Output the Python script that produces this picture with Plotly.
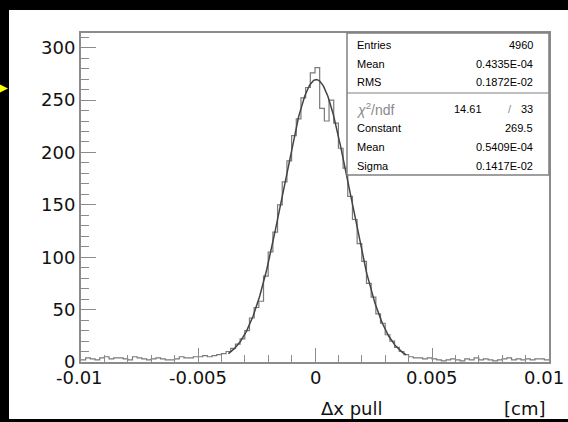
import numpy as np
import plotly.graph_objects as go

# ---------------- data ----------------
x_min, x_max, n_bins = -0.01, 0.01, 100
counts = [2, 4, 3, 2, 4, 5, 3, 4, 4, 3, 2, 5, 4, 3, 2, 3, 4, 3, 2, 2, 3, 5, 4, 4, 5,
          5, 6, 5, 6, 7, 8, 10, 13, 17, 22, 30, 42, 52, 58, 82,
          105, 124, 150, 172, 192, 216, 232, 252, 262, 276,
          281, 242, 230, 250, 228, 204, 185, 158, 136, 113,
          96, 75, 62, 46, 37, 26, 20, 14, 10, 7,
          5, 4, 4, 3, 4, 3, 2, 1, 2, 3, 2, 1, 3, 2, 4, 2, 3, 2, 1, 2,
          3, 4, 2, 3, 2, 3, 2, 3, 3, 2]
fit_constant = 269.5
fit_mean = 0.5409e-04
fit_sigma = 0.1417e-02
fit_range = [-0.0037, 0.0039]

x_tickvals = [-0.01, -0.005, 0, 0.005, 0.01]
x_ticktext = ["-0.01", "-0.005", "0", "0.005", "0.01"]
y_range = [0, 314]

stat_labels_top = ["Entries", "Mean", "RMS"]
stat_values_top = ["4960", "0.4335E-04", "0.1872E-02"]
chi2_value, ndf_value = "14.61", "33"
stat_labels_fit = ["Constant", "Mean", "Sigma"]
stat_values_fit = ["269.5", "0.5409E-04", "0.1417E-02"]

# ---------------- geometry helpers ----------------
W, H = 568, 422
L, R, T, B = 81, 549, 33, 362


def px(x):
    return (x - L) / (R - L)


def py(y):
    return (B - y) / (B - T)


edges = np.linspace(x_min, x_max, n_bins + 1)
hist_y = list(counts) + [counts[-1]]

fx = np.linspace(fit_range[0], fit_range[1], 300)
fy = fit_constant * np.exp(-0.5 * ((fx - fit_mean) / fit_sigma) ** 2)

fig = go.Figure()
fig.add_trace(go.Scatter(x=edges, y=hist_y, mode="lines", line_shape="hv",
                         line=dict(color="#7a7a7a", width=1.2), showlegend=False))
fig.add_trace(go.Scatter(x=fx, y=fy, mode="lines",
                         line=dict(color="#444444", width=1.5), showlegend=False))

shapes = []
# white panel on black page
shapes.append(dict(type="rect", xref="paper", yref="paper", layer="below",
                   x0=px(9), x1=px(570), y0=py(419), y1=py(10),
                   fillcolor="white", line=dict(width=0)))
# yellow arrow
shapes.append(dict(type="path", xref="paper", yref="paper",
                   path=f"M {px(-2)},{py(83.5)} L {px(8)},{py(88.5)} L {px(-2)},{py(93.5)} Z",
                   fillcolor="#ffff00", line=dict(width=0)))
# stats box
shapes.append(dict(type="rect", xref="paper", yref="paper",
                   x0=px(347), x1=px(549), y0=py(175), y1=py(33),
                   fillcolor="white", line=dict(color="#808080", width=1.5)))
shapes.append(dict(type="line", xref="paper", yref="paper",
                   x0=px(347), x1=px(549), y0=py(93), y1=py(93),
                   line=dict(color="#808080", width=1.2)))

ann = []
sfont = dict(family="Liberation Sans, Arial, sans-serif", size=11, color="black")
rows_top = [45, 64, 82]
rows_fit = [128, 147, 166]
for lab, val, yy in zip(stat_labels_top, stat_values_top, rows_top):
    ann.append(dict(text=lab, x=px(355), y=py(yy), xref="paper", yref="paper",
                    xanchor="left", yanchor="middle", showarrow=False, font=sfont))
    ann.append(dict(text=val, x=px(535), y=py(yy), xref="paper", yref="paper",
                    xanchor="right", yanchor="middle", showarrow=False, font=sfont))
for lab, val, yy in zip(stat_labels_fit, stat_values_fit, rows_fit):
    ann.append(dict(text=lab, x=px(355), y=py(yy), xref="paper", yref="paper",
                    xanchor="left", yanchor="middle", showarrow=False, font=sfont))
    ann.append(dict(text=val, x=px(535), y=py(yy), xref="paper", yref="paper",
                    xanchor="right", yanchor="middle", showarrow=False, font=sfont))
gfont = dict(family="Liberation Sans, Arial, sans-serif", size=14, color="#8a8a8a")
ann.append(dict(text="<i>χ</i><sup>2</sup>/ndf", x=px(354), y=py(109), xref="paper", yref="paper",
                xanchor="left", yanchor="middle", showarrow=False, font=gfont))
ann.append(dict(text=chi2_value, x=px(468), y=py(109), xref="paper", yref="paper",
                xanchor="center", yanchor="middle", showarrow=False, font=sfont))
ann.append(dict(text="/", x=px(510), y=py(109), xref="paper", yref="paper",
                xanchor="center", yanchor="middle", showarrow=False,
                font=dict(family="Liberation Sans, Arial, sans-serif", size=11, color="#8a8a8a")))
ann.append(dict(text=ndf_value, x=px(535), y=py(109), xref="paper", yref="paper",
                xanchor="right", yanchor="middle", showarrow=False, font=sfont))

tfont = dict(family="DejaVu Sans, sans-serif", size=18, color="#111111")
# x tick labels placed under their ticks
for i, (tv, tt) in enumerate(zip(x_tickvals, x_ticktext)):
    shift = -5 if i == len(x_tickvals) - 1 else (-2 if i == 0 else 0)
    ann.append(dict(text=tt, x=tv, y=py(377), xref="x", yref="paper", xshift=shift,
                    xanchor="center", yanchor="middle", showarrow=False, font=tfont))
ann.append(dict(text="Δx pull", x=px(352), y=py(408), xref="paper", yref="paper",
                xanchor="center", yanchor="middle", showarrow=False, font=tfont))
ann.append(dict(text="[cm]", x=px(547), y=py(408), xref="paper", yref="paper",
                xanchor="right", yanchor="middle", showarrow=False, font=tfont))

axcol = "#8c8c8c"
fig.update_layout(
    width=W, height=H, autosize=False,
    margin=dict(l=L, r=W - R, t=T, b=H - B, pad=0),
    paper_bgcolor="black", plot_bgcolor="white",
    shapes=shapes, annotations=ann, showlegend=False,
    xaxis=dict(range=[x_min, x_max], tickmode="array", tickvals=x_tickvals,
               showticklabels=False,
               ticks="inside", ticklen=14, tickwidth=1.2, tickcolor=axcol,
               minor=dict(ticks="inside", ticklen=7, dtick=0.001, tick0=x_min, tickcolor=axcol, tickwidth=1.2),
               showline=True, linecolor=axcol, linewidth=2, mirror=True,
               showgrid=False, zeroline=False),
    yaxis=dict(range=y_range, tickmode="linear", tick0=0, dtick=50,
               ticks="inside", ticklen=15, tickwidth=1.2, tickcolor=axcol,
               minor=dict(ticks="inside", ticklen=8, dtick=10, tick0=0, tickcolor=axcol, tickwidth=1.2),
               showline=True, linecolor=axcol, linewidth=2, mirror=True,
               showgrid=False, zeroline=False,
               tickfont=tfont),
)

fig.write_html("out.html")
